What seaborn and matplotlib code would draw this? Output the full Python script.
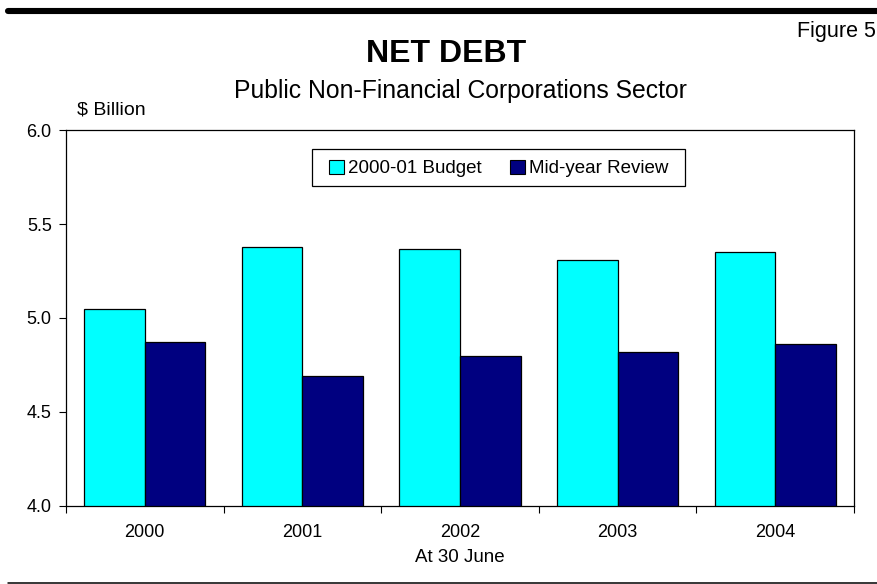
import matplotlib
matplotlib.use("Agg")
import matplotlib.pyplot as plt
import seaborn as sns
import pandas as pd
import numpy as np
from matplotlib.lines import Line2D
from matplotlib.patches import Rectangle
from matplotlib.ticker import FixedLocator

years = ["2000", "2001", "2002", "2003", "2004"]
budget = [5.05, 5.38, 5.37, 5.31, 5.35]
midyear = [4.87, 4.69, 4.80, 4.82, 4.86]
series_names = ["2000-01 Budget", "Mid-year Review"]
yticks = [4.0, 4.5, 5.0, 5.5, 6.0]

df = pd.DataFrame({
    "year": years * 2,
    "value": budget + midyear,
    "series": [series_names[0]] * len(years) + [series_names[1]] * len(years),
})

sns.set_theme(style="white")
plt.rcParams["font.family"] = ["Liberation Sans", "DejaVu Sans"]
for k in ["text.color", "axes.labelcolor", "xtick.color", "ytick.color"]:
    plt.rcParams[k] = "black"

W, H = 878, 584
fig = plt.figure(figsize=(W / 100, H / 100), dpi=100)
ax = fig.add_axes([66 / W, 1 - 505.7 / H, (854 - 66) / W, (505.7 - 130.3) / H])

sns.barplot(data=df, x="year", y="value", hue="series", order=years,
            hue_order=series_names, palette=["#00FFFF", "#000080"],
            edgecolor="black", linewidth=0.9, width=0.77, gap=0,
            saturation=1, ax=ax, legend=True)

ax.set_ylim(4.0, 6.0)
ax.set_xlim(-0.5, len(years) - 0.5)
ax.set_yticks(yticks)
ax.set_yticklabels([f"{v:.1f}" for v in yticks], fontsize=13)
ax.set_xlabel("At 30 June", fontsize=13.5, labelpad=6)
ax.set_ylabel("")
ax.tick_params(axis="x", which="major", length=0, labelsize=13, pad=13)
ax.xaxis.set_minor_locator(FixedLocator(np.arange(-0.5, len(years), 1.0)))
ax.tick_params(axis="x", which="minor", length=4.8, width=0.8, color="black", direction="out", bottom=True)
ax.tick_params(axis="y", which="major", length=4.8, width=0.8, color="black", direction="out", left=True, pad=5.5)
for s in ax.spines.values():
    s.set_visible(True)
    s.set_color("black")
    s.set_linewidth(0.9)

leg = ax.legend(loc="center left", bbox_to_anchor=(329 / W, 1 - 168.5 / H),
                bbox_transform=fig.transFigure,
                ncol=2, fontsize=13.5, frameon=False,
                handlelength=0.8, handleheight=0.75, handletextpad=0.2, columnspacing=1.55,
                borderpad=0, borderaxespad=0)
for h in leg.legend_handles:
    h.set_edgecolor("black")
    h.set_linewidth(0.8)
fig.add_artist(Rectangle((312 / W, 1 - 186 / H), (685 - 312) / W, (186 - 149) / H,
                         transform=fig.transFigure, facecolor="none", edgecolor="black", linewidth=0.9))

fig.text(446 / W, 1 - 62.3 / H, "NET DEBT", ha="center", va="baseline", fontsize=23, fontweight="bold")
fig.text(460 / W, 1 - 98.3 / H, "Public Non-Financial Corporations Sector", ha="center", va="baseline", fontsize=17.8)
fig.text(875.5 / W, 1 - 37.3 / H, "Figure 5", ha="right", va="baseline", fontsize=15.5)
fig.text(111 / W, 1 - 114.5 / H, "$ Billion", ha="center", va="baseline", fontsize=14)

fig.add_artist(Line2D([8 / W, 1.0], [1 - 11 / H, 1 - 11 / H], lw=4.4, color="black"))
fig.add_artist(Line2D([8 / W, 1.0], [1 - 582.5 / H, 1 - 582.5 / H], lw=1.1, color="black"))

fig.savefig("out.png", dpi=100)
